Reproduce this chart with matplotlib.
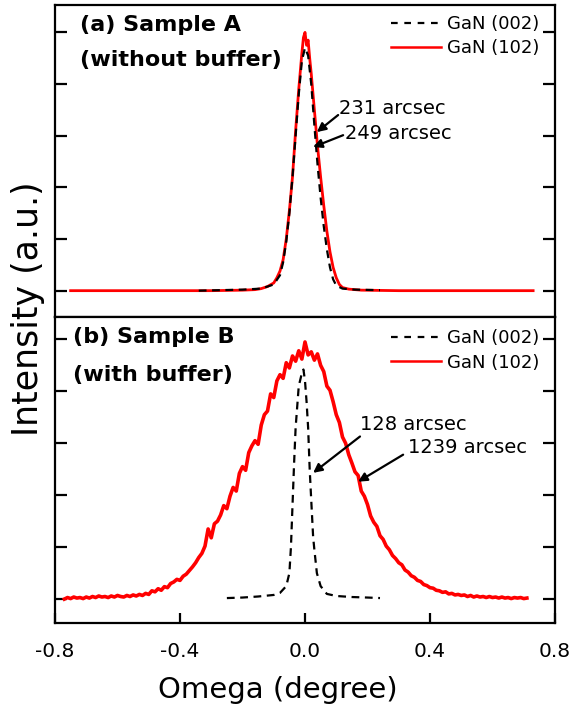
import numpy as np
import matplotlib
matplotlib.use("Agg")
import matplotlib.pyplot as plt
from matplotlib.lines import Line2D

plt.rcParams['font.family'] = ['DejaVu Sans']

# ---------------- data ----------------
# Panel (a) Sample A (without buffer)
a_red_x = [-0.75, -0.5, -0.3, -0.2, -0.16, -0.14, -0.12, -0.10, -0.09, -0.08, -0.07, -0.06,
           -0.05, -0.04, -0.03, -0.02, -0.01, -0.005, 0.0, 0.005, 0.01, 0.015, 0.02, 0.03,
           0.04, 0.05, 0.06, 0.07, 0.08, 0.09, 0.10, 0.11, 0.12, 0.14, 0.18, 0.3, 0.73]
a_red_y = [0.0, 0.0, 0.0, 0.01, 0.02, 0.04, 0.08, 0.15, 0.25, 0.38, 0.6, 1.0,
           1.55, 2.2, 3.1, 3.9, 4.6, 4.9, 5.0, 4.75, 4.85, 4.5, 4.2, 3.5,
           2.8, 2.2, 1.65, 1.15, 0.75, 0.45, 0.25, 0.12, 0.06, 0.03, 0.01, 0.0, 0.0]

a_blk_x = [-0.34, -0.2, -0.14, -0.10, -0.08, -0.07, -0.06, -0.05, -0.04, -0.03, -0.02, -0.01,
           0.0, 0.01, 0.02, 0.03, 0.04, 0.05, 0.06, 0.07, 0.08, 0.09, 0.10, 0.12, 0.16, 0.24]
a_blk_y = [0.0, 0.02, 0.04, 0.12, 0.3, 0.55, 0.95, 1.5, 2.2, 3.0, 3.8, 4.45,
           4.7, 4.55, 4.0, 3.2, 2.45, 1.8, 1.25, 0.8, 0.45, 0.22, 0.1, 0.04, 0.02, 0.01]

# Panel (b) Sample B (with buffer)
b_red_x = np.round(np.arange(-0.77, 0.7101, 0.01), 2)
b_red_y = [0.00, 0.03, 0.01, 0.04, 0.02, 0.03, 0.01, 0.04, 0.02, 0.05,
           0.03, 0.06, 0.04, 0.05, 0.03, 0.06, 0.04, 0.07, 0.05, 0.04,
           0.07, 0.05, 0.08, 0.06, 0.09, 0.07, 0.11, 0.09, 0.16, 0.14,
           0.20, 0.17, 0.24, 0.22, 0.30, 0.33, 0.38, 0.36, 0.44, 0.48,
           0.55, 0.62, 0.70, 0.80, 0.88, 1.02, 1.35, 1.18, 1.45, 1.50,
           1.62, 1.80, 1.74, 1.98, 2.15, 2.08, 2.42, 2.55, 2.48, 2.82,
           2.95, 3.05, 2.98, 3.35, 3.55, 3.62, 3.95, 3.88, 4.20, 4.32,
           4.25, 4.55, 4.45, 4.68, 4.58, 4.78, 4.62, 4.95, 4.70, 4.76,
           4.60, 4.72, 4.50, 4.38, 4.10, 4.02, 3.80, 3.55, 3.40, 3.12,
           3.00, 2.78, 2.62, 2.45, 2.38, 2.08, 1.98, 1.82, 1.60, 1.48,
           1.40, 1.22, 1.15, 1.02, 0.95, 0.84, 0.78, 0.70, 0.66, 0.56,
           0.52, 0.45, 0.42, 0.36, 0.34, 0.28, 0.26, 0.22, 0.21, 0.17,
           0.16, 0.13, 0.14, 0.10, 0.11, 0.08, 0.09, 0.07, 0.08, 0.05,
           0.07, 0.04, 0.06, 0.04, 0.05, 0.03, 0.05, 0.03, 0.04, 0.02,
           0.04, 0.02, 0.03, 0.01, 0.03, 0.02, 0.03, 0.01, 0.02]

b_blk_x = [-0.25, -0.2, -0.15, -0.1, -0.08, -0.06, -0.05, -0.045, -0.04, -0.035, -0.03, -0.02,
           -0.01, -0.005, 0.0, 0.005, 0.01, 0.015, 0.02, 0.026, 0.03, 0.038, 0.05, 0.07,
           0.1, 0.15, 0.2, 0.24]
b_blk_y = [0.02, 0.03, 0.05, 0.08, 0.12, 0.25, 0.5, 1.0, 1.8, 2.6, 3.3, 4.1,
           4.35, 4.42, 4.2, 3.8, 3.3, 2.5, 1.9, 1.2, 0.95, 0.5, 0.25, 0.1,
           0.06, 0.04, 0.03, 0.02]

series_labels = ['GaN (002)', 'GaN (102)']
xticks = [-0.8, -0.4, 0.0, 0.4, 0.8]
xtick_labels = ['-0.8', '-0.4', '0.0', '0.4', '0.8']
yticks = [0, 1, 2, 3, 4, 5]

# ---------------- figure ----------------
W, H = 573, 709
fig = plt.figure(figsize=(W / 100, H / 100), dpi=100)
left, right = 55 / W, 555 / W
top_a, mid, bot_b = 1 - 5 / H, 1 - 316.5 / H, 1 - 623 / H
ax_a = fig.add_axes([left, mid, right - left, top_a - mid])
ax_b = fig.add_axes([left, bot_b, right - left, mid - bot_b])

dash = (0, (3.5, 2.5))
for ax in (ax_a, ax_b):
    for s in ax.spines.values():
        s.set_linewidth(1.6)
    ax.set_xlim(-0.8, 0.8)
    ax.set_xticks(xticks)
    ax.set_yticks(yticks)
    ax.tick_params(axis='y', which='both', direction='in', left=True, right=True,
                   labelleft=False, length=8.5, width=1.6)
    ax.tick_params(axis='x', direction='in', length=7, width=1.6)

ax_a.set_ylim(-0.5, 5.53)
ax_b.set_ylim(-0.46, 5.44)

ax_a.tick_params(axis='x', bottom=False, labelbottom=False)
ax_b.tick_params(axis='x', bottom=True, labelbottom=True, labelsize=14.5, pad=14)
ax_b.set_xticklabels(xtick_labels)

# curves
ax_a.plot(a_blk_x, a_blk_y, color='black', lw=1.6, linestyle=dash, zorder=3)
ax_a.plot(a_red_x, a_red_y, color='#ff0000', lw=2.0, zorder=2)
ax_b.plot(b_blk_x, b_blk_y, color='black', lw=1.6, linestyle=dash, zorder=3)
ax_b.plot(b_red_x, b_red_y, color='#ff0000', lw=2.6, zorder=2)

# legends
handles = [Line2D([], [], color='black', lw=1.6, linestyle=(0, (3, 3))),
           Line2D([], [], color='#ff0000', lw=1.8)]
for ax, anchor in ((ax_a, (0.968, 0.968)), (ax_b, (0.968, 0.958))):
    ax.legend(handles, series_labels, loc='upper right', bbox_to_anchor=anchor,
              frameon=False, fontsize=13, handlelength=2.8, handletextpad=0.3,
              labelspacing=0.35, borderpad=0, borderaxespad=0)

# panel titles
ax_a.text(-0.72, 5.15, '(a) Sample A', fontsize=16, fontweight='bold', ha='left', va='center')
ax_a.text(-0.72, 4.47, '(without buffer)', fontsize=16, fontweight='bold', ha='left', va='center')
ax_b.text(-0.742, 5.04, '(b) Sample B', fontsize=16, fontweight='bold', ha='left', va='center')
ax_b.text(-0.742, 4.32, '(with buffer)', fontsize=16, fontweight='bold', ha='left', va='center')

# annotations
arrow = dict(arrowstyle='-|>', color='black', lw=1.6, mutation_scale=13,
             shrinkA=0, shrinkB=0)
ax_a.text(0.109, 3.53, '231 arcsec', fontsize=14, ha='left', va='center')
ax_a.text(0.128, 3.05, '249 arcsec', fontsize=14, ha='left', va='center')
ax_a.annotate('', xy=(0.038, 3.07), xytext=(0.106, 3.4), arrowprops=arrow)
ax_a.annotate('', xy=(0.026, 2.78), xytext=(0.122, 3.01), arrowprops=arrow)

ax_b.text(0.176, 3.36, '128 arcsec', fontsize=14, ha='left', va='center')
ax_b.text(0.33, 2.92, '1239 arcsec', fontsize=14, ha='left', va='center')
ax_b.annotate('', xy=(0.026, 2.43), xytext=(0.176, 3.13), arrowprops=arrow)
ax_b.annotate('', xy=(0.17, 2.26), xytext=(0.314, 2.78), arrowprops=arrow)

# axis labels
fig.text(278 / W, 1 - 690 / H, 'Omega (degree)', fontsize=21, ha='center', va='center')
fig.text(28 / W, 1 - 309 / H, 'Intensity (a.u.)', fontsize=25, rotation=90,
         ha='center', va='center')

fig.savefig('out.png', dpi=100)
